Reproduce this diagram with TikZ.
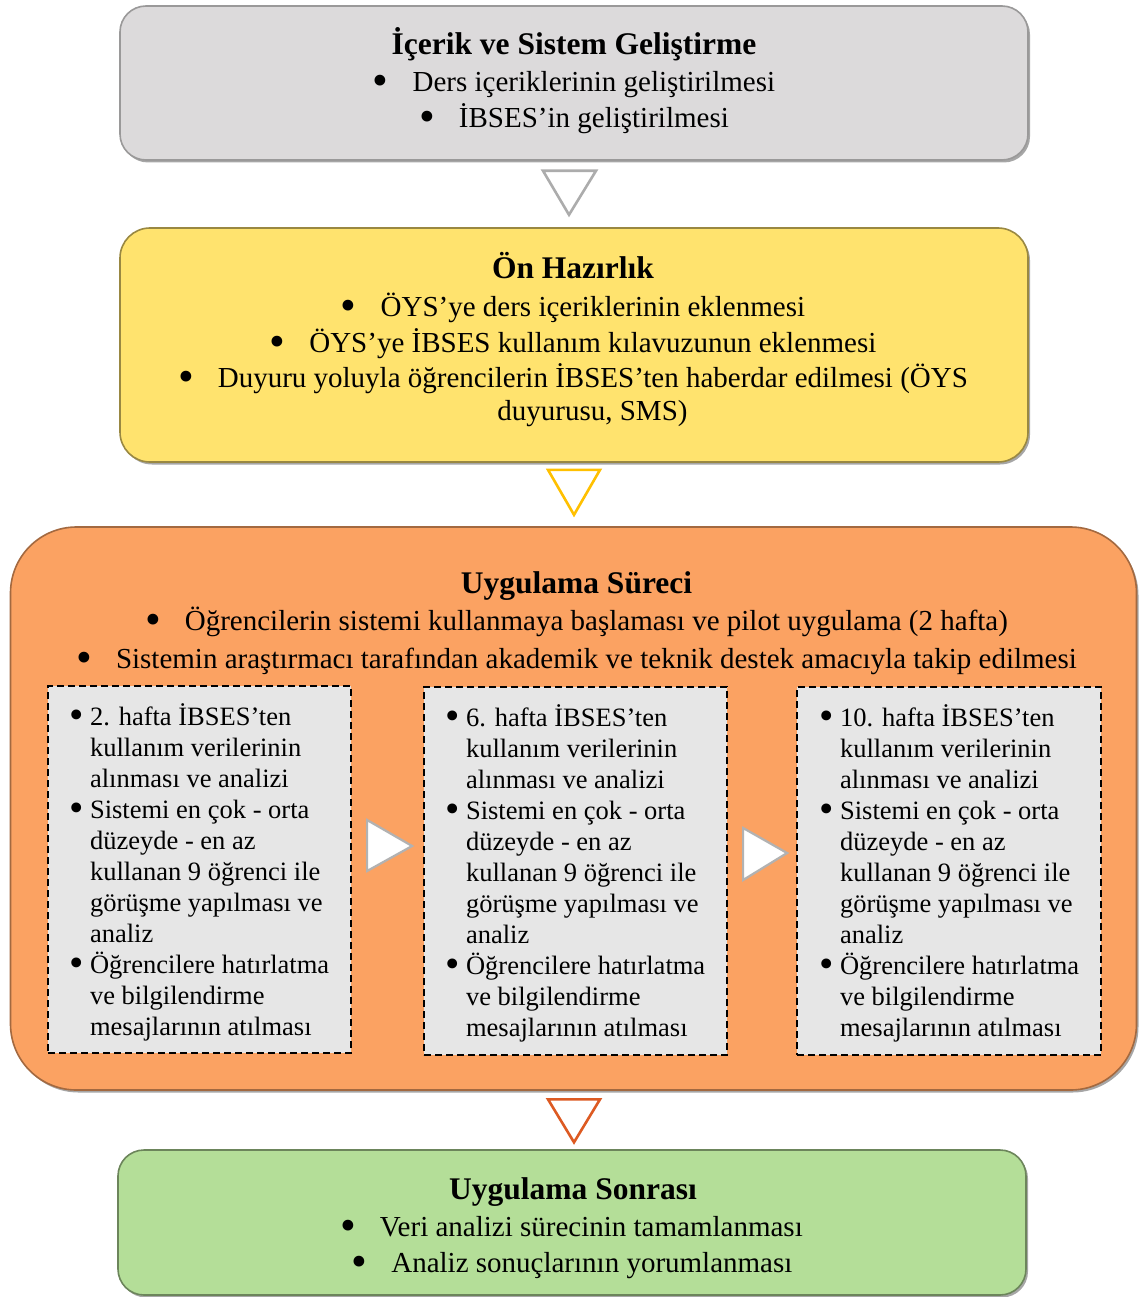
\documentclass[tikz,border=0pt]{standalone}
\usepackage{fontspec}
\usepackage{graphicx}
\setmainfont{Liberation Serif}
\usetikzlibrary{shadows,calc}
\definecolor{cgray}{HTML}{DCDADB}
\definecolor{cyellow}{HTML}{FFE36E}
\definecolor{corange}{HTML}{FBA262}
\definecolor{cgreen}{HTML}{B4DE98}
\definecolor{cinner}{HTML}{E6E6E6}
\definecolor{tyellow}{HTML}{FFC000}
\definecolor{tred}{HTML}{DD5A22}
\newcommand\mybul{\raisebox{-0.14em}{\scalebox{1.55}{\textbullet}}}
\newcommand\myinnerlist[1]{%
\begin{tabular}[t]{@{}l@{\hspace{6pt}}l@{}}
\mybul & #1. hafta İBSES’ten\\
 & kullanım verilerinin\\
 & alınması ve analizi\\
\mybul & Sistemi en çok - orta\\
 & düzeyde - en az\\
 & kullanan 9 öğrenci ile\\
 & görüşme yapılması ve\\
 & analiz\\
\mybul & Öğrencilere hatırlatma\\
 & ve bilgilendirme\\
 & mesajlarının atılması
\end{tabular}}
\tikzset{
  stagebox/.style={rectangle, rounded corners=#1, line width=1.6pt,
    drop shadow={shadow xshift=2pt, shadow yshift=-2.5pt, opacity=.35, fill=black}},
  dashbox/.style={rectangle, draw=black, fill=cinner, line width=2.2pt,
    dash pattern=on 7pt off 4pt},
  ttl/.style={font=\fontsize{31.5}{36}\selectfont\bfseries, anchor=mid, inner sep=0pt},
  body/.style={font=\fontsize{29}{36}\selectfont, anchor=mid, inner sep=0pt},
  innertext/.style={font=\fontsize{26.5}{31}\selectfont, anchor=base west, inner sep=0pt},
  downtri/.style={line width=2.6pt, line join=miter, fill=white},
  righttri/.style={line width=2.2pt, line join=miter, fill=white, draw=gray!60},
}
\newcommand\bl{\mybul\hspace{24pt}}
\begin{document}
\begin{tikzpicture}[x=1pt,y=-1pt]
\useasboundingbox (0,0) rectangle (1139,1297);
% boxes
\node[stagebox=26pt, fill=cgray, draw=cgray!70!black, minimum width=908pt, minimum height=154pt] (b1) at (574,83) {};
\node[stagebox=30pt, fill=cyellow, draw=cyellow!60!black, minimum width=908pt, minimum height=234pt] (b2) at (574,345) {};
\node[stagebox=66pt, fill=corange, draw=corange!65!black, minimum width=1126pt, minimum height=563pt] (b3) at (573.5,808.5) {};
\node[stagebox=26pt, fill=cgreen, draw=cgreen!60!black, minimum width=908pt, minimum height=145pt] (b4) at (572,1222.5) {};
% box 1 text
\node[ttl] (t1) at (574,52) {İçerik ve Sistem Geliştirme};
\node[body] (t1a) at (574,89) {\bl Ders içeriklerinin geliştirilmesi};
\node[body] (t1b) at (574,125) {\bl İBSES’in geliştirilmesi};
% box 2 text
\node[ttl] (t2) at (573,276) {Ön Hazırlık};
\node[body] (t2a) at (573,314) {\bl ÖYS’ye ders içeriklerinin eklenmesi};
\node[body] (t2b) at (573,350) {\bl ÖYS’ye İBSES kullanım kılavuzunun eklenmesi};
\node[body] (t2c) at (573,385) {\bl Duyuru yoluyla öğrencilerin İBSES’ten haberdar edilmesi (ÖYS};
\node[body] (t2d) at (592.5,418) {duyurusu, SMS)};
% box 3 text
\node[ttl] (t3) at (576.5,591) {Uygulama Süreci};
\node[body] (t3a) at (576.5,628) {\bl Öğrencilerin sistemi kullanmaya başlaması ve pilot uygulama (2 hafta)};
\node[body] (t3b) at (576.5,666) {\bl Sistemin araştırmacı tarafından akademik ve teknik destek amacıyla takip edilmesi};
% inner boxes
\node[dashbox, minimum width=303pt, minimum height=367pt] (i1) at (199.5,869.5) {};
\node[dashbox, minimum width=303pt, minimum height=368pt] (i2) at (575.5,871) {};
\node[dashbox, minimum width=304pt, minimum height=368pt] (i3) at (949,871) {};
\node[innertext] (l1) at (69.5,725) {\myinnerlist{2}};
\node[innertext] (l2) at (445.5,726) {\myinnerlist{6}};
\node[innertext] (l3) at (819.5,726) {\myinnerlist{10}};
% box 4 text
\node[ttl] (t4) at (573,1197) {Uygulama Sonrası};
\node[body] (t4a) at (571.5,1234) {\bl Veri analizi sürecinin tamamlanması};
\node[body] (t4b) at (572,1270) {\bl Analiz sonuçlarının yorumlanması};
% down arrows
\draw[downtri, draw=gray!65] ($(b1.south)+(-31,10)$) -- ($(b1.south)+(22,10)$) -- ($(b1.south)+(-5,54)$) -- cycle;
\draw[downtri, draw=tyellow] ($(b2.south)+(-26,7)$) -- ($(b2.south)+(26,7)$) -- ($(b2.south)+(0,52)$) -- cycle;
\draw[downtri, draw=tred] ($(b3.south)+(-25.5,8.5)$) -- ($(b3.south)+(26.5,8.5)$) -- ($(b3.south)+(0.5,51.5)$) -- cycle;
% right arrows
\draw[righttri] ($(i1.east)+(15,-49.5)$) -- ($(i1.east)+(60,-23.5)$) -- ($(i1.east)+(15,1.5)$) -- cycle;
\draw[righttri] ($(i2.east)+(15,-43)$) -- ($(i2.east)+(59,-18)$) -- ($(i2.east)+(15,9)$) -- cycle;
\end{tikzpicture}
\end{document}
